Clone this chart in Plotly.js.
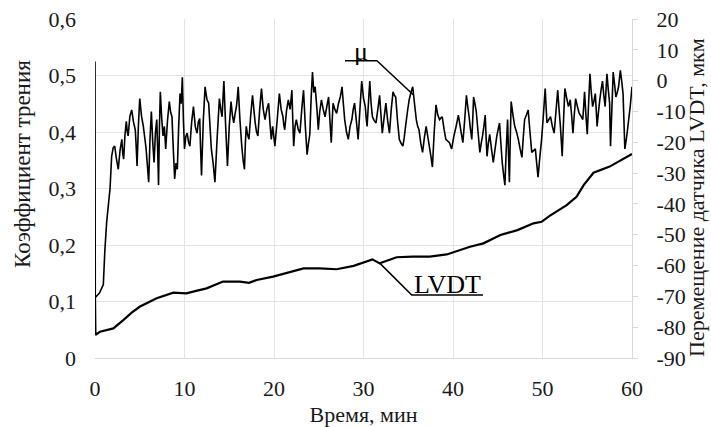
<!DOCTYPE html>
<html>
<head>
<meta charset="utf-8">
<script src="https://cdn.plot.ly/plotly-3.0.1.min.js"></script>
<style>html,body{margin:0;padding:0;background:#fff;}#chart{width:711px;height:427px;}</style>
</head>
<body>
<div id="chart"></div>
<script>
// Friction coefficient μ (left axis): [time, value] pairs
var muPairs = [[0,.525],[0.03,.107],[0.5,.115],[0.93,.13],[1.1,.19],[1.3,.24],[1.68,.30],
[1.86,.357],[2.03,.372],[2.2,.375],[2.4,.352],[2.6,.334],[2.8,.368],[3.0,.387],[3.1,.362],[3.2,.352],[3.35,.395],[3.5,.419],[3.6,.401],[3.7,.393],[3.9,.428],[4.1,.439],[4.3,.418],[4.5,.404],[4.6,.375],[4.7,.34],[4.85,.412],[5.0,.459],[5.2,.428],[5.4,.41],[5.7,.372],[6.0,.311],[6.15,.39],[6.3,.436],[6.45,.382],[6.6,.346],[6.75,.398],[6.9,.422],[7.0,.37],[7.1,.306],[7.2,.41],[7.3,.471],[7.45,.425],[7.6,.393],[7.75,.41],[7.9,.37],[8.1,.42],[8.3,.454],[8.45,.435],[8.6,.427],[8.75,.37],[8.9,.317],[9.05,.345],[9.2,.334],[9.35,.41],[9.5,.468],[9.63,.45],[9.76,.497],[9.88,.42],
[10.0,.37],[10.15,.392],[10.3,.398],[10.45,.382],[10.6,.375],[10.8,.418],[11.0,.445],[11.2,.41],[11.4,.398],[11.55,.418],[11.7,.424],[11.8,.37],[11.9,.323],[12.1,.42],[12.3,.48],[12.5,.458],[12.7,.451],[12.85,.41],[13.0,.37],[13.2,.345],[13.4,.311],[13.65,.39],[13.9,.459],[14.05,.44],[14.2,.427],[14.3,.46],[14.4,.49],[14.6,.41],[14.8,.34],[15.0,.41],[15.2,.454],[15.35,.43],[15.5,.416],[15.65,.432],[15.8,.445],[15.9,.46],[16.0,.48],[16.2,.42],[16.4,.375],[16.55,.35],[16.7,.334],[16.8,.38],[16.9,.41],[17.05,.395],[17.2,.387],[17.4,.43],[17.6,.465],[17.75,.44],[17.9,.416],[18.05,.4],[18.2,.393],[18.4,.44],[18.6,.477],[18.8,.44],[19.0,.422],[19.2,.44],[19.4,.451],[19.55,.415],[19.7,.387],[19.85,.41],
[20.1,.375],[20.35,.42],[20.6,.468],[20.8,.44],[21.0,.427],[21.1,.412],[21.2,.404],[21.4,.438],[21.6,.457],[21.8,.44],[22.0,.474],[22.1,.42],[22.2,.375],[22.35,.41],[22.5,.422],[22.7,.405],[22.9,.398],[23.1,.44],[23.3,.474],[23.5,.41],[23.7,.36],[23.85,.38],[24.0,.396],[24.15,.46],[24.3,.506],[24.45,.47],[24.6,.48],[24.8,.44],[24.95,.404],[25.1,.435],[25.3,.457],[25.5,.44],[25.7,.427],[25.9,.445],[26.1,.462],[26.25,.42],[26.4,.381],[26.5,.42],[26.6,.451],[26.8,.44],[27.0,.433],[27.2,.45],[27.4,.462],[27.5,.47],[27.6,.48],[27.75,.45],[27.9,.422],[28.1,.40],[28.3,.387],[28.5,.41],[28.7,.422],[28.85,.44],[29.0,.451],[29.2,.42],[29.4,.387],[29.6,.44],[29.8,.49],
[30.0,.46],[30.2,.445],[30.3,.425],[30.4,.41],[30.55,.45],[30.7,.49],[30.85,.45],[31.0,.427],[31.2,.42],[31.4,.416],[31.6,.44],[31.8,.465],[31.95,.43],[32.1,.398],[32.3,.425],[32.5,.451],[32.7,.42],[32.9,.398],[33.1,.44],[33.3,.471],[33.45,.465],[33.6,.462],[33.8,.42],[34.0,.387],[34.2,.38],[34.4,.375],[34.55,.39],[34.7,.41],[34.9,.435],[35.1,.457],[35.3,.47],[35.5,.48],[35.7,.45],[35.9,.422],[36.05,.41],[36.2,.404],[36.4,.38],[36.6,.364],[36.8,.39],[37.0,.41],[37.2,.39],[37.4,.37],[37.55,.355],[37.7,.338],[37.9,.4],[38.1,.448],[38.3,.43],[38.5,.422],[38.65,.425],[38.8,.427],[39.0,.405],[39.2,.387],[39.4,.384],[39.6,.381],[39.85,.37],
[40.1,.393],[40.35,.41],[40.6,.43],[40.85,.405],[41.1,.381],[41.3,.42],[41.5,.465],[41.65,.445],[41.8,.427],[41.95,.405],[42.1,.387],[42.2,.42],[42.3,.462],[42.45,.45],[42.6,.436],[42.8,.4],[43.0,.364],[43.15,.38],[43.3,.393],[43.45,.41],[43.6,.43],[43.7,.39],[43.8,.357],[43.95,.38],[44.1,.396],[44.3,.37],[44.5,.346],[44.7,.37],[44.9,.393],[45.05,.405],[45.2,.416],[45.35,.38],[45.5,.346],[45.65,.325],[45.8,.306],[45.95,.37],[46.1,.422],[46.2,.36],[46.3,.311],[46.4,.39],[46.5,.454],[46.7,.43],[46.9,.41],[47.1,.4],[47.3,.387],[47.5,.37],[47.7,.355],[47.85,.39],[48.0,.422],[48.2,.43],[48.4,.439],[48.6,.4],[48.8,.364],[49.0,.367],[49.2,.37],[49.35,.345],[49.5,.32],[49.7,.355],[49.9,.387],
[50.1,.43],[50.3,.477],[50.4,.445],[50.5,.416],[50.7,.422],[50.9,.427],[51.1,.41],[51.3,.398],[51.5,.435],[51.7,.474],[51.85,.44],[52.0,.41],[52.1,.385],[52.2,.357],[52.35,.42],[52.5,.477],[52.7,.46],[52.9,.445],[53.0,.45],[53.1,.457],[53.25,.43],[53.4,.398],[53.55,.43],[53.7,.459],[53.9,.445],[54.1,.433],[54.3,.428],[54.5,.422],[54.6,.445],[54.7,.471],[54.85,.43],[55.0,.396],[55.15,.45],[55.3,.503],[55.45,.47],[55.6,.445],[55.75,.455],[55.9,.468],[56.0,.44],[56.1,.41],[56.25,.435],[56.4,.457],[56.55,.475],[56.7,.49],[56.85,.465],[57.0,.445],[57.1,.475],[57.2,.503],[57.35,.475],[57.5,.451],[57.55,.41],[57.6,.375],[57.75,.44],[57.9,.506],[58.05,.485],[58.2,.462],[58.35,.47],[58.5,.48],[58.6,.495],[58.7,.509],[58.85,.49],[59.0,.468],[59.1,.42],[59.2,.37],[59.35,.385],[59.5,.404],[59.65,.425],[59.8,.445],[60.0,.48]];
var muTime = muPairs.map(function(p){return p[0];});
var muValues = muPairs.map(function(p){return p[1];});

// LVDT displacement, μm (right axis)
var lvdtTime = [0, 0.05, 0.56, 1.3, 2.05, 3.16, 4.1, 5.03, 6.0, 6.89, 8.75, 10.2, 11.3, 12.47, 14.3, 16.2, 17.2, 18.07, 19.9, 21.4, 23.3, 25.1, 27.0, 28.9, 31.0, 31.8, 33.7, 35.5, 37.4, 39.3, 40.2, 41.9, 43.4, 45.3, 47.2, 49.0, 49.9, 50.8, 52.7, 53.8, 54.6, 55.7, 57.5, 59.4, 60.0];
var lvdtValues = [-70, -82.5, -81.5, -81.0, -80.4, -77.7, -75.3, -73.3, -71.8, -70.6, -68.8, -69.0, -68.2, -67.4, -65.2, -65.2, -65.6, -64.7, -63.6, -62.5, -60.9, -60.9, -61.2, -60.1, -58.0, -59.3, -57.3, -57.1, -57.1, -56.4, -55.5, -53.9, -52.8, -50.1, -48.5, -46.3, -45.8, -43.9, -40.4, -37.7, -33.9, -29.9, -27.9, -24.7, -23.8];

var rightTickVals = [-90, -80, -70, -60, -50, -40, -30, -20, -10, 0, 10, 20];
var rightTickText = ['-90', '-80', '-70', '-60', '-50', '-40', '-30', '-20', '-10', '0', '10', '20'];

var FONT = 'Liberation Serif';
var GRID = '#e3e3e3';
var TXT = '#1a1a1a';
function f(size){ return {family: FONT, size: size, color: TXT}; }

var traces = [
  {x: muTime, y: muValues, type: 'scatter', mode: 'lines', yaxis: 'y',
   line: {color: '#000', width: 1.6, simplify: false}, name: 'μ'},
  {x: lvdtTime, y: lvdtValues, type: 'scatter', mode: 'lines', yaxis: 'y2',
   line: {color: '#000', width: 2.2}, name: 'LVDT'}
];

var layout = {
  width: 711, height: 427,
  margin: {l: 95, r: 79, t: 19, b: 69},
  paper_bgcolor: '#fff', plot_bgcolor: '#fff',
  showlegend: false,
  separators: ', ',
  font: f(22),
  xaxis: {
    range: [0, 60], dtick: 10, tick0: 0,
    showgrid: true, gridcolor: GRID, gridwidth: 1,
    zeroline: false, showline: true, linecolor: '#d9d9d9', linewidth: 1,
    ticks: '', ticklabelstandoff: 11, tickfont: f(22),
    title: {text: 'Время, мин', font: f(22), standoff: 14}
  },
  yaxis: {
    range: [0, 0.6], dtick: 0.1, tick0: 0,
    showgrid: true, gridcolor: GRID, gridwidth: 1,
    zeroline: false, showline: false,
    ticks: '', ticklabelstandoff: 18, tickfont: f(22)
  },
  yaxis2: {
    overlaying: 'y', side: 'right',
    range: [-90, 20], tickvals: rightTickVals, ticktext: rightTickText,
    showgrid: false, zeroline: false, showline: true, linecolor: '#d9d9d9', linewidth: 1,
    ticks: 'outside', ticklen: 5, tickcolor: '#d9d9d9', ticklabelstandoff: 14, tickfont: f(22)
  },
  shapes: [
    {type: 'path', xref: 'x', yref: 'y', path: 'M 27.93 0.526 L 31.5 0.526 L 35.56 0.466',
     line: {color: '#000', width: 1.5}},
    {type: 'path', xref: 'x', yref: 'y2', path: 'M 31.84 -59.3 L 35.39 -69.55 L 43.35 -69.55',
     line: {color: '#000', width: 1.5}}
  ],
  annotations: [
    {x: 29.7, y: 0.526, xref: 'x', yref: 'y', text: 'μ', showarrow: false,
     xanchor: 'center', yanchor: 'bottom', yshift: -7, font: {family: FONT, size: 26, color: '#000'}},
    {x: 39.4, y: -66.3, xref: 'x', yref: 'y2', text: 'LVDT', showarrow: false,
     xanchor: 'center', yanchor: 'middle', font: {family: FONT, size: 26, color: '#000'}},
    {x: -0.136, y: 0.572, xref: 'paper', yref: 'paper', text: 'Коэффициент трения', textangle: -90,
     showarrow: false, xanchor: 'center', yanchor: 'middle', font: f(23)},
    {x: 1.121, y: 0.475, xref: 'paper', yref: 'paper', text: 'Перемещение датчика LVDT, мкм', textangle: -90,
     showarrow: false, xanchor: 'center', yanchor: 'middle', font: f(22)}
  ]
};

Plotly.newPlot('chart', traces, layout, {displayModeBar: false, staticPlot: true});
</script>
</body>
</html>
